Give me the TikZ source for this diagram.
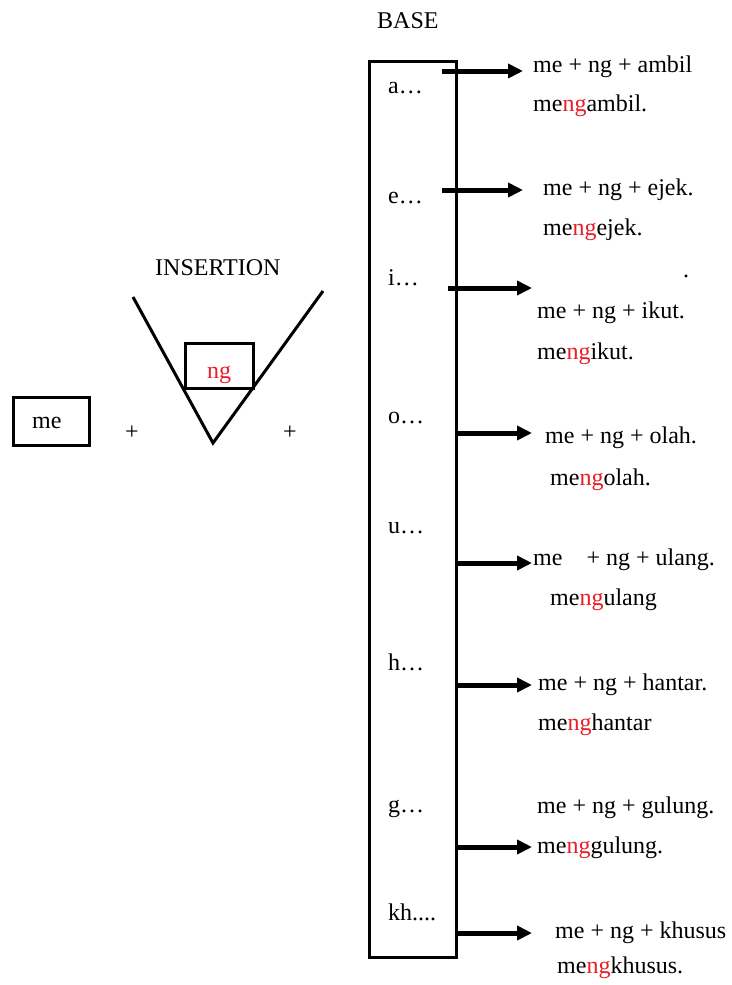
\documentclass[tikz,border=0pt]{standalone}
\usepackage{fontspec}
\setmainfont{Liberation Serif}
\usetikzlibrary{arrows.meta}
\definecolor{ngred}{RGB}{232,30,40}
\newcommand{\ngr}{\textcolor{ngred}{ng}}
\begin{document}
\begin{tikzpicture}[x=1pt,y=-1pt,
  txt/.style={anchor=base west, inner sep=0pt, font=\fontsize{24}{28}\selectfont},
  boxline/.style={line width=3pt},
  framebox/.style={draw, line width=3pt, inner sep=0pt},
  arr/.style={line width=5pt, -{Triangle[length=15pt,width=14pt]}}]
\useasboundingbox (0,0) rectangle (731,985);

% BASE column
\node[txt] (baselbl) at (377,28) {BASE};
\node[framebox, minimum width=87pt, minimum height=896pt] (base) at (412.5,509) {};

\node[txt] (la) at (388,93) {a…};
\node[txt] (le) at (388,203) {e…};
\node[txt] (li) at (388,285) {i…};
\node[txt] (lo) at (388,423) {o…};
\node[txt] (lu) at (388,533) {u…};
\node[txt] (lh) at (388,670) {h…};
\node[txt] (lg) at (388,812) {g…};
\node[txt] (lkh) at (388,920) {kh....};

% arrows
\coordinate (sa) at (442,71);  \coordinate (ea) at (523,71);
\coordinate (se) at (442,190); \coordinate (ee) at (523,190);
\coordinate (si) at (448,288); \coordinate (ei) at (532,288);
\coordinate (so) at (456,433); \coordinate (eo) at (532,433);
\coordinate (su) at (456,563); \coordinate (eu) at (532,563);
\coordinate (sh) at (456,685); \coordinate (eh) at (532,685);
\coordinate (sg) at (456,847); \coordinate (eg) at (532,847);
\coordinate (sk) at (456,933); \coordinate (ek) at (532,933);
\draw[arr] (sa) -- (ea);
\draw[arr] (se) -- (ee);
\draw[arr] (si) -- (ei);
\draw[arr] (so) -- (eo);
\draw[arr] (su) -- (eu);
\draw[arr] (sh) -- (eh);
\draw[arr] (sg) -- (eg);
\draw[arr] (sk) -- (ek);

% results
\node[txt] (ra1) at (533,72) {me + ng + ambil};
\node[txt] (ra2) at (533,111) {me\ngr{}ambil.};
\node[txt] (re1) at (543,195) {me + ng + ejek.};
\node[txt] (re2) at (543,235) {me\ngr{}ejek.};
\node[txt] (dot) at (683,277) {.};
\node[txt] (ri1) at (537,318) {me + ng + ikut.};
\node[txt] (ri2) at (537,359) {me\ngr{}ikut.};
\node[txt] (ro1) at (545,443) {me + ng + olah.};
\node[txt] (ro2) at (550,485) {me\ngr{}olah.};
\node[txt] (ru1) at (533,565) {me\hspace{24pt}+ ng + ulang.};
\node[txt] (ru2) at (550,605) {me\ngr{}ulang};
\node[txt] (rh1) at (538,690) {me + ng + hantar.};
\node[txt] (rh2) at (538,730) {me\ngr{}hantar};
\node[txt] (rg1) at (537,813) {me + ng + gulung.};
\node[txt] (rg2) at (537,853) {me\ngr{}gulung.};
\node[txt] (rk1) at (555,938) {me + ng + khusus};
\node[txt] (rk2) at (557,973) {me\ngr{}khusus.};

% left part
\node[framebox, minimum width=76pt, minimum height=48pt] (mebox) at (51,421) {};
\node[txt] (metxt) at (32,428) {me};
\node[txt] (plus1) at (125,439) {+};
\node[txt] (plus2) at (283,439) {+};

\node[txt] (inslbl) at (155,275) {INSERTION};
\coordinate (vl) at (133,297);
\coordinate (vb) at (213,443);
\coordinate (vr) at (323,291);
\draw[boxline] (vl) -- (vb) -- (vr);
\node[framebox, minimum width=68pt, minimum height=45pt] (ngbox) at (219,365.5) {};
\node[txt, text=ngred] (ngtxt) at (207,378) {ng};
\end{tikzpicture}
\end{document}
